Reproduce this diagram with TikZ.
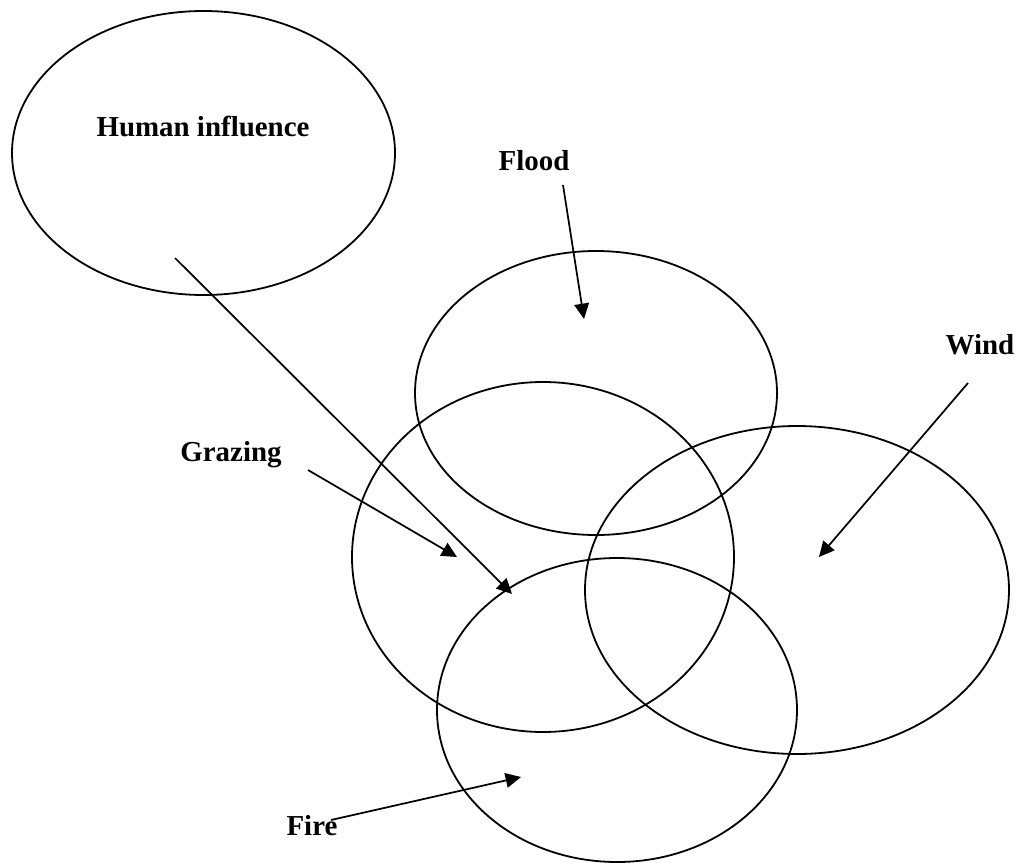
\documentclass[tikz,border=0pt]{standalone}
\usepackage{fontspec}
\setmainfont{Liberation Serif}
\usetikzlibrary{shapes.geometric,arrows.meta}

\begin{document}
\begin{tikzpicture}[x=0.75pt,y=-0.75pt]
\useasboundingbox (0,0) rectangle (1017,863);
\tikzset{
  region/.style ={draw, ellipse, line width=1.35pt, inner sep=0},
  factor/.style ={font=\fontsize{21.7}{26}\selectfont\bfseries, inner sep=0},
  push/.style ={line width=1.3pt, -{Triangle[length=11.5pt,width=11pt]}}
}
% the overlapping regions
\node[region, minimum width=287.25pt, minimum height=213pt] (human) at (203.5,153) {};
\node[region, minimum width=271.5pt, minimum height=213pt] (flood) at (596,393) {};
\node[region, minimum width=286.5pt, minimum height=262.5pt] (grazing) at (543,557) {};
\node[region, minimum width=318pt, minimum height=246pt] (wind) at (797,590) {};
\node[region, minimum width=270pt, minimum height=228pt] (fire) at (617,710) {};
% labels
\node[factor] (human label) at (203,126) {Human influence};
\node[factor] (flood label) at (534,161) {Flood};
\node[factor] (wind label) at (980,345) {Wind};
\node[factor] (grazing label) at (231,455) {Grazing};
\node[factor] (fire label) at (312,826) {Fire};
% ends of the arrows
\coordinate (human tail) at (175,258);
\coordinate (human head) at (512,594);
\coordinate (flood tail) at (563,185);
\coordinate (flood head) at (584,319);
\coordinate (wind tail) at (968,383);
\coordinate (wind head) at (819,557);
\coordinate (grazing tail) at (308,470);
\coordinate (grazing head) at (457,557);
\coordinate (fire tail) at (331,820);
\coordinate (fire head) at (521,777);
\draw[push] (human tail) -- (human head);
\draw[push] (flood tail) -- (flood head);
\draw[push] (wind tail) -- (wind head);
\draw[push] (grazing tail) -- (grazing head);
\draw[push] (fire tail) -- (fire head);
\end{tikzpicture}
\end{document}
